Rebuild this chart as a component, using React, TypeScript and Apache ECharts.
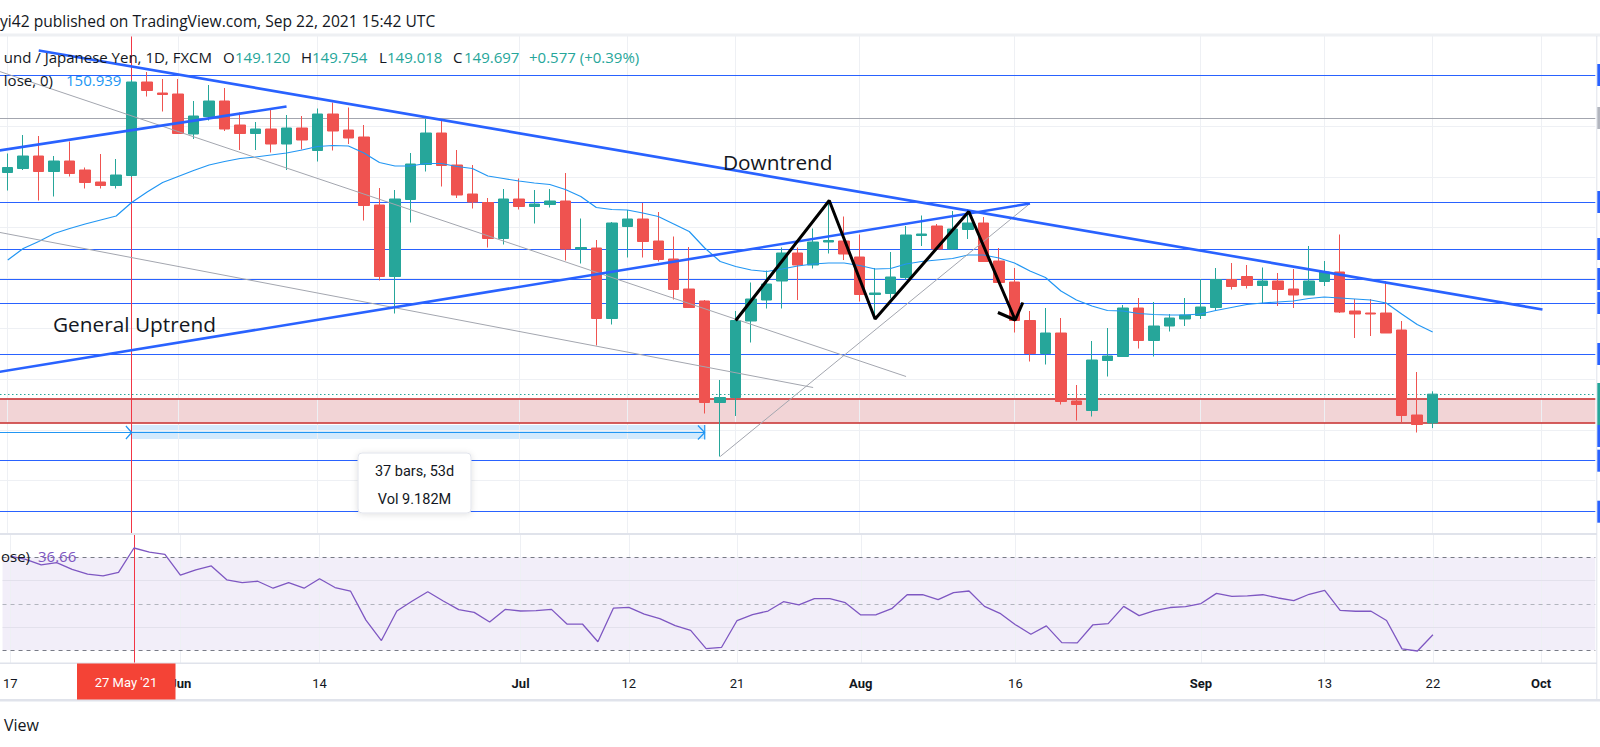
import React, { useEffect, useRef } from "react";
import * as echarts from "echarts";

// ---------- categories (trading days) ----------
const may = [17, 18, 19, 20, 21, 24, 25, 26, 27, 28, 31];
const jun = [1, 2, 3, 4, 7, 8, 9, 10, 11, 14, 15, 16, 17, 18, 21, 22, 23, 24, 25, 28, 29, 30];
const jul = [1, 2, 5, 6, 7, 8, 9, 12, 13, 14, 15, 16, 19, 20, 21, 22, 23, 26, 27, 28, 29, 30];
const aug = [2, 3, 4, 5, 6, 9, 10, 11, 12, 13, 16, 17, 18, 19, 20, 23, 24, 25, 26, 27, 30, 31];
const sep = [1, 2, 3, 6, 7, 8, 9, 10, 13, 14, 15, 16, 17, 20, 21, 22];
const futureDays = ["09-23", "09-24", "09-27", "09-28", "09-29", "09-30", "10-01", "10-04", "10-05", "10-06"];

const tickLabels: [string, string, boolean][] = [
  ["05-17", "17", false], ["06-01", "Jun", true], ["06-14", "14", false], ["07-01", "Jul", true],
  ["07-12", "12", false], ["07-21", "21", false], ["08-02", "Aug", true], ["08-16", "16", false],
  ["09-01", "Sep", true], ["09-13", "13", false], ["09-22", "22", false], ["10-01", "Oct", true],
];

// ---------- OHLC ----------
const opens = [154.13,154.21,154.46,154.15,154.36,154.18,153.94,153.87,154.07,155.94,
 155.72,155.70,154.90,155.25,155.56,155.08,154.91,155.00,154.70,155.02,
 154.57,155.30,154.98,154.84,153.48,152.05,153.59,154.29,154.92,154.28,
 153.70,153.53,152.81,153.60,153.45,153.49,153.56,152.60,152.62,151.21,
 153.05,153.20,152.76,152.40,151.80,151.56,149.53,149.63,151.16,151.58,
 151.96,152.52,152.28,152.74,152.76,152.44,151.69,151.71,152.03,152.87,
 153.06,152.60,152.99,153.12,152.36,151.94,151.17,150.51,150.92,149.56,
 149.37,150.37,150.45,151.42,150.77,151.06,151.20,151.27,151.43,151.99,
 152.05,151.87,151.96,151.80,151.68,151.95,152.14,151.36,151.32,151.32,
 150.98,149.28,149.12];
const closes = [154.23,154.46,154.15,154.36,154.11,153.93,153.87,154.08,155.94,155.77,
 155.69,154.91,155.26,155.56,155.00,154.91,155.00,154.70,155.02,154.78,
 155.30,154.96,154.82,153.47,152.05,153.60,154.30,154.92,154.27,153.68,
 153.54,152.81,153.60,153.45,153.50,153.56,152.60,152.63,151.21,153.12,
 153.20,152.75,152.39,151.79,151.43,149.53,149.63,151.17,151.60,151.90,
 152.52,152.28,152.74,152.77,152.50,151.69,151.72,152.04,152.88,152.90,
 152.60,153.00,153.12,152.35,151.93,151.17,150.51,150.92,149.55,149.49,
 150.38,150.46,151.42,150.77,151.06,151.22,151.28,151.44,151.99,151.85,
 151.87,151.96,151.79,151.68,151.96,152.14,151.34,151.30,151.30,150.92,
 149.27,149.09,149.697];
const lows = [153.77,154.18,153.57,153.65,154.05,153.81,153.81,153.81,154.04,155.65,
 155.35,154.90,154.80,155.17,154.96,154.58,154.58,154.53,154.18,154.59,
 154.35,154.57,154.70,153.17,151.97,151.31,153.13,154.15,153.85,153.62,
 153.41,152.63,152.69,153.39,153.11,153.43,152.37,152.31,150.67,151.09,
 152.43,152.43,152.35,151.59,151.42,149.31,148.45,149.26,150.73,151.41,
 151.41,151.58,152.21,152.51,152.38,151.55,151.25,151.61,151.98,152.66,
 152.58,152.58,152.80,152.34,151.92,150.93,150.35,150.29,149.49,149.17,
 149.25,150.05,150.44,150.61,150.45,150.95,151.06,151.20,151.36,151.79,
 151.81,151.52,151.46,151.42,151.68,151.86,151.32,150.82,150.86,150.92,
 149.13,148.93,149.018];
const highs = [154.51,154.88,154.86,154.46,154.75,154.23,154.50,154.40,155.98,156.14,
 156.00,156.00,155.56,155.88,155.82,155.33,155.14,155.39,155.28,155.26,
 155.41,155.53,155.43,155.08,153.82,153.78,154.52,155.20,155.17,154.58,
 154.28,153.62,153.80,154.01,153.78,153.80,154.12,153.21,152.78,153.14,
 153.38,153.52,153.34,152.85,152.64,151.58,149.98,151.36,151.93,152.17,
 152.63,152.63,153.01,153.52,153.25,152.89,152.22,152.54,153.06,153.27,
 153.10,153.36,153.40,153.24,152.62,152.22,151.36,151.42,151.22,149.88,
 150.76,151.02,151.48,151.62,151.54,151.30,151.62,152.00,152.22,152.32,
 152.28,152.23,152.12,152.20,152.66,152.36,152.89,151.60,151.60,151.96,
 151.16,150.14,149.754];

// ---------- indicators ----------
const ma20 = [152.38,152.61,152.75,152.91,153.01,153.10,153.18,153.26,153.53,153.74,
 153.93,154.05,154.17,154.28,154.35,154.41,154.44,154.48,154.52,154.58,
 154.65,154.67,154.66,154.52,154.33,154.26,154.26,154.31,154.31,154.25,
 154.21,154.06,154.01,153.96,153.92,153.89,153.79,153.65,153.43,153.39,
 153.38,153.32,153.25,153.10,152.95,152.62,152.35,152.25,152.18,152.15,
 152.20,152.26,152.30,152.32,152.32,152.27,152.20,152.21,152.30,152.35,
 152.38,152.41,152.48,152.48,152.42,152.32,152.16,152.03,151.76,151.58,
 151.46,151.37,151.36,151.31,151.29,151.28,151.28,151.30,151.37,151.43,
 151.49,151.52,151.54,151.56,151.61,151.64,151.62,151.60,151.58,151.52,
 151.30,151.09,150.94];
const rsi = [70.5,69.1,66.7,67.7,64.8,62.8,62.0,63.5,74.0,72.2,
 71.3,62.3,64.6,66.3,60.3,59.1,59.7,56.7,59.1,56.7,
 60.8,57.0,55.5,43.0,34.2,46.9,51.2,55.2,51.2,47.5,
 46.3,42.2,47.6,46.9,47.1,47.6,41.3,41.3,33.7,48.1,
 48.5,45.6,43.6,40.6,38.6,30.7,31.3,42.8,45.3,46.9,
 50.9,49.5,52.2,52.2,50.5,45.2,45.3,47.9,53.9,53.9,
 51.8,54.8,55.5,48.9,45.9,41.0,36.9,40.5,33.3,33.2,
 40.9,41.5,48.9,44.9,47.1,48.4,48.8,50.1,54.5,53.2,
 53.4,53.9,52.5,51.4,54.1,55.8,47.2,46.8,46.8,42.8,
 30.6,29.7,36.66];

// ---------- drawings (bar index, price) ----------
const blueLevels = [156.08, 153.53, 152.59, 151.99, 151.51, 150.49, 148.37, 147.35];
const grayLevel = 155.21;
const zoneLevels = [149.13, 149.61];
const priceGrid = [155.05, 154.03, 153.03, 152.01, 151.01, 149.99, 148.98, 147.97];
const downtrendLine = [[2, 156.57], [99.09, 151.39]];
const uptrendLine = [[-1, 150.12], [66, 153.51]];
const shortUpLine = [[-1, 154.55], [18, 155.45]];
const grayLineA = [[-1, 156.2], [58, 150.05]];
const grayLineB = [[-1, 152.96], [52, 149.83]];
const grayLineC = [[46, 148.45], [66, 153.51]];
const zigzag = [[47, 151.17], [53.04, 153.57], [56, 151.2], [62.05, 153.35], [65.05, 151.18]];
const arrowHead = [[63.93, 151.33], [65.05, 151.18], [65.54, 151.53]];
const rangeBand = [8, 45, 148.8, 149.08];
const rangeLine = [[-1, 148.93], [45, 148.93]];
const rangeChevL = [[7.63, 149.06], [8, 148.93], [7.63, 148.8]];
const rangeChevR = [[44.56, 149.07], [45, 148.93], [44.56, 148.79]];
const rangeEnd = [[45, 149.08], [45, 148.79]];
const markerBar = 8;

const FONT = "Roboto, 'Noto Sans', sans-serif";
const UIFONT = "'Open Sans', Roboto, sans-serif";
const pad = (d: number) => (d < 10 ? "0" + d : "" + d);

const categories: string[] = [
  ...may.map((d) => "05-" + pad(d)),
  ...jun.map((d) => "06-" + pad(d)),
  ...jul.map((d) => "07-" + pad(d)),
  ...aug.map((d) => "08-" + pad(d)),
  ...sep.map((d) => "09-" + pad(d)),
  ...futureDays,
];
const tickIdx = tickLabels.map((t) => categories.indexOf(t[0]));

function buildOption() {
  const N = categories.length;
  const gridLeft = -5.3;
  const gridWidth = 1600.6;
  const hl = (v: number, color: string, width = 1, type: any = "solid") => ({
    yAxis: v, lineStyle: { color, width, type },
  });
  const vl = (v: number, color: string, width = 1) => ({ xAxis: v, lineStyle: { color, width, type: "solid" } });
  const mlBase = { symbol: "none", silent: true, label: { show: false }, emphasis: { disabled: true }, animation: false };
  const drawLine = (data: number[][], color: string, width: number, z = 8) => ({
    type: "line", xAxisIndex: 2, yAxisIndex: 0, data, symbol: "none", showSymbol: false,
    lineStyle: { color, width }, silent: true, z, animation: false, clip: true,
  });

  const txt = (text: string, x: number, y: number, fill: string, size = 15, align = "left", family = UIFONT, z = 100) => ({
    type: "text", x, y, z,
    style: { text, fill, font: `${size}px ${family}`, textAlign: align, verticalAlign: "middle" },
  });

  const tagColorsY: [number, string][] = [
    [75, "#2962ff"], [118, "#b2b5be"], [202, "#2962ff"], [249, "#2962ff"], [279, "#2962ff"],
    [303, "#2962ff"], [354, "#2962ff"], [436, "#2962ff"], [460.7, "#2962ff"], [511.7, "#2962ff"],
  ];

  return {
    animation: false,
    backgroundColor: "#ffffff",
    textStyle: { fontFamily: FONT },
    grid: [
      { left: gridLeft, width: gridWidth, top: 36, height: 498 },
      { left: gridLeft, width: gridWidth, top: 535, height: 128 },
    ],
    xAxis: [
      { type: "category", gridIndex: 0, data: categories, boundaryGap: true, show: false },
      {
        type: "category", gridIndex: 1, data: categories, boundaryGap: true,
        axisLine: { show: false }, axisTick: { show: false }, splitLine: { show: false },
        axisLabel: {
          interval: (i: number) => tickIdx.indexOf(i) >= 0,
          formatter: (v: string) => {
            const t = tickLabels.find((x) => x[0] === v);
            if (!t) return "";
            return t[2] ? `{b|${t[1]}}` : t[1];
          },
          color: "#131722", fontSize: 13, margin: 14, fontFamily: FONT,
          rich: { b: { fontWeight: "bold", fontSize: 13, color: "#131722", fontFamily: FONT } },
        },
      },
      { type: "value", gridIndex: 0, min: -0.5, max: N - 0.5, show: false },
      { type: "value", gridIndex: 1, min: -0.5, max: N - 0.5, show: false },
    ],
    yAxis: [
      { type: "value", gridIndex: 0, min: 146.9, max: 156.86, show: false, splitLine: { show: false } },
      { type: "value", gridIndex: 1, min: 24.54, max: 79.59, show: false, splitLine: { show: false } },
    ],
    series: [
      // background grid + zone fill (main pane)
      {
        type: "line", xAxisIndex: 2, yAxisIndex: 0, data: [[0, 150]], symbol: "none", showSymbol: false,
        lineStyle: { opacity: 0 }, z: 1, silent: true,
        markLine: {
          ...mlBase,
          data: [
            ...priceGrid.map((v) => hl(v, "#eef0f4")),
            ...tickIdx.map((i) => vl(i, "#eef0f4")),
          ],
        },
        markArea: {
          silent: true,
          itemStyle: { color: "rgba(190,40,50,0.2)" },
          data: [[{ yAxis: zoneLevels[1] }, { yAxis: zoneLevels[0] }]],
        },
      },
      // candles
      {
        type: "candlestick", xAxisIndex: 0, yAxisIndex: 0, barWidth: 11, z: 5,
        data: opens.map((o, i) => [o, closes[i], lows[i], highs[i]]),
        itemStyle: { color: "#26a69a", color0: "#ef5350", borderColor: "#26a69a", borderColor0: "#ef5350", borderWidth: 1 },
        silent: true,
      },
      // MA
      {
        type: "line", xAxisIndex: 0, yAxisIndex: 0, data: ma20, symbol: "none", showSymbol: false,
        lineStyle: { color: "#2196f3", width: 1.2 }, z: 6, silent: true,
      },
      // levels, zone borders, price line, date range, marker
      {
        type: "line", xAxisIndex: 2, yAxisIndex: 0, data: [[0, 150]], symbol: "none", showSymbol: false,
        lineStyle: { opacity: 0 }, z: 7, silent: true,
        markLine: {
          ...mlBase,
          data: [
            ...blueLevels.map((v) => hl(v, "#2962ff", 1.2)),
            hl(grayLevel, "#a3a6af", 1.2),
            hl(zoneLevels[1], "#c62828", 1.5),
            hl(zoneLevels[0], "#c62828", 1.5),
            hl(closes[closes.length - 1], "#26a69a", 1, [1.5, 2.5]),
            vl(markerBar, "#f23645", 1),
          ],
        },
        markArea: {
          silent: true,
          itemStyle: { color: "rgba(33,150,243,0.2)" },
          data: [[{ coord: [rangeBand[0], rangeBand[3]] }, { coord: [rangeBand[1], rangeBand[2]] }]],
        },
      },
      drawLine(rangeLine, "#2196f3", 1.2),
      drawLine(rangeChevL, "#2196f3", 1.2),
      drawLine(rangeChevR, "#2196f3", 1.2),
      drawLine(rangeEnd, "#2196f3", 1.2),
      drawLine(grayLineA, "#a3a6af", 1),
      drawLine(grayLineB, "#a3a6af", 1),
      drawLine(grayLineC, "#a3a6af", 1),
      drawLine(downtrendLine, "#2962ff", 2.6),
      drawLine(uptrendLine, "#2962ff", 2.6),
      drawLine(shortUpLine, "#2962ff", 2.6),
      drawLine(zigzag, "#000000", 3, 9),
      drawLine(arrowHead, "#000000", 3, 9),
      // RSI background
      {
        type: "line", xAxisIndex: 3, yAxisIndex: 1, data: [[0, 50]], symbol: "none", showSymbol: false,
        lineStyle: { opacity: 0 }, z: 1, silent: true,
        markArea: {
          silent: true,
          itemStyle: { color: "rgba(126,87,194,0.1)" },
          data: [[{ yAxis: 70 }, { yAxis: 30 }]],
        },
        markLine: {
          ...mlBase,
          data: [
            ...tickIdx.map((i) => vl(i, "#eef0f4")),
            hl(60, "#e3e1ec"), hl(40, "#e3e1ec"),
            hl(70, "#787b86", 1, [4, 4]), hl(30, "#787b86", 1, [4, 4]),
            hl(50, "#b2b5be", 1, [4, 4]),
          ],
        },
      },
      {
        type: "line", xAxisIndex: 3, yAxisIndex: 1, data: [[0, 50]], symbol: "none", showSymbol: false,
        lineStyle: { opacity: 0 }, z: 7, silent: true,
        markLine: { ...mlBase, data: [vl(markerBar, "#f23645", 1)] },
      },
      // RSI line
      {
        type: "line", xAxisIndex: 1, yAxisIndex: 1, data: rsi, symbol: "none", showSymbol: false,
        lineStyle: { color: "#7e57c2", width: 1.3 }, z: 5, silent: true,
      },
    ],
    graphic: [
      txt("yi42 published on TradingView.com, Sep 22, 2021 15:42 UTC", 0, 21, "#131722", 15.6),
      { type: "rect", z: 100, shape: { x: 0, y: 33.5, width: 1600, height: 3 }, style: { fill: "#eef0f3" } },
      txt("und / Japanese Yen, 1D, FXCM", 212, 57, "#131722", 15, "right"),
      txt("O", 223, 57, "#131722", 15), txt("149.120", 235, 57, "#26a69a", 15),
      txt("H", 301, 57, "#131722", 15), txt("149.754", 312, 57, "#26a69a", 15),
      txt("L", 379, 57, "#131722", 15), txt("149.018", 387, 57, "#26a69a", 15),
      txt("C", 453, 57, "#131722", 15), txt("149.697", 464, 57, "#26a69a", 15),
      txt("+0.577 (+0.39%)", 529, 57, "#26a69a", 15),
      txt("lose, 0)", 53, 79.5, "#131722", 15, "right"),
      txt("150.939", 66, 79.5, "#2196f3", 15),
      txt("Downtrend", 723, 161.5, "#131722", 20.8),
      txt("General Uptrend", 53, 324, "#131722", 20.8),
      // measure tooltip
      {
        type: "rect", z: 100, shape: { x: 358, y: 453, width: 113, height: 60, r: 4 },
        style: { fill: "#ffffff", stroke: "#e0e3eb", lineWidth: 1, shadowBlur: 6, shadowColor: "rgba(0,0,0,0.12)", shadowOffsetY: 1 },
      },
      txt("37 bars, 53d", 414.5, 471, "#131722", 14.5, "center", FONT, 101),
      txt("Vol 9.182M", 414.5, 499, "#131722", 14.5, "center", FONT, 101),
      // panes separators
      { type: "rect", z: 100, shape: { x: 0, y: 533, width: 1597, height: 2 }, style: { fill: "#e0e3eb" } },
      { type: "rect", z: 100, shape: { x: 0, y: 662.5, width: 1597, height: 1.5 }, style: { fill: "#e0e3eb" } },
      { type: "rect", z: 100, shape: { x: 0, y: 699, width: 1600, height: 2.5 }, style: { fill: "#e0e3eb" } },
      { type: "rect", z: 100, shape: { x: 1596.3, y: 36, width: 1, height: 664 }, style: { fill: "#e0e3eb" } },
      ...tagColorsY.map(([y, c]) => ({
        type: "rect", z: 101, shape: { x: 1597.3, y: y - 11, width: 3, height: 22 }, style: { fill: c },
      })),
      { type: "rect", z: 101, shape: { x: 1597.3, y: 383, width: 3, height: 42 }, style: { fill: "#26a69a" } },
      // RSI legend
      txt("ose)", 30, 556, "#131722", 15, "right"),
      txt("36.66", 38, 556, "#7e57c2", 15),
      // date marker label
      { type: "rect", z: 102, shape: { x: 77, y: 663.5, width: 98.5, height: 36 }, style: { fill: "#f44336" } },
      txt("27 May '21", 126, 682.5, "#ffffff", 13, "center", FONT, 103),
      // footer
      txt("View", 39, 725, "#131722", 16, "right"),
    ],
  };
}

export default function App() {
  const ref = useRef<HTMLDivElement>(null);
  useEffect(() => {
    const chart = echarts.init(ref.current as HTMLDivElement, null, { renderer: "svg" });
    chart.setOption(buildOption() as any);
    return () => chart.dispose();
  }, []);
  return (
    <div
      ref={ref}
      style={{ position: "fixed", left: 0, top: 0, width: 1600, height: 747, background: "#ffffff" }}
    />
  );
}
